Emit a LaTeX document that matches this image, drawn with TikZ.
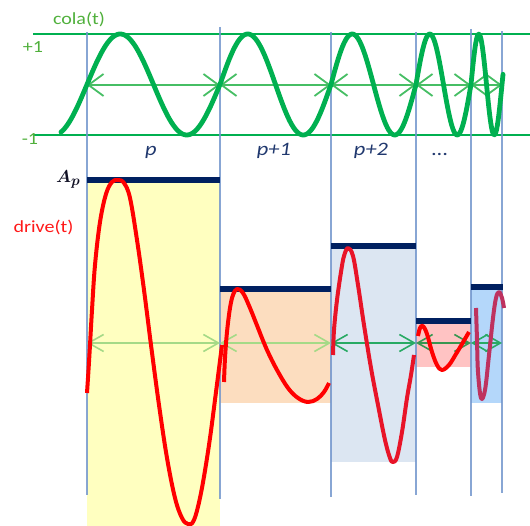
\documentclass[tikz,border=0pt]{standalone}
\usepackage{fontspec}
\newfontfamily\calib[FakeStretch=1.18]{Carlito}
\usetikzlibrary{arrows.meta}
\definecolor{linegreen}{RGB}{0,176,80}
\definecolor{curvegreen}{RGB}{0,176,80}
\definecolor{topgreen}{RGB}{70,190,100}
\definecolor{textgreen}{RGB}{80,176,60}
\definecolor{vblue}{RGB}{115,150,205}
\definecolor{navy}{RGB}{0,32,96}
\definecolor{plabel}{RGB}{32,56,110}
\definecolor{fillA}{RGB}{255,255,192}
\definecolor{fillB}{RGB}{252,221,191}
\definecolor{fillC}{RGB}{220,230,242}
\definecolor{fillD}{RGB}{255,195,195}
\definecolor{fillE}{RGB}{180,215,250}
\definecolor{arrA}{RGB}{165,218,135}
\definecolor{arrB}{RGB}{40,170,100}
\definecolor{arrC}{RGB}{55,150,80}
\definecolor{redA}{RGB}{255,0,0}
\definecolor{redC}{RGB}{232,20,40}
\definecolor{redE}{RGB}{190,50,95}
\definecolor{textred}{RGB}{255,25,25}
\definecolor{amptext}{RGB}{15,15,35}
\tikzset{
  hline/.style={draw=linegreen, line width=1.2pt},
  vline/.style={draw=vblue, line width=1.5pt, opacity=0.85},
  toparrow/.style={draw=topgreen, line width=1.8pt,
    {Straight Barb[length=15pt,width=22pt]}-{Straight Barb[length=15pt,width=22pt]}},
  drivearrow/.style={line width=1.6pt,
    {Straight Barb[length=15pt,width=17pt]}-{Straight Barb[length=15pt,width=17pt]}},
  colacurve/.style={draw=curvegreen, line width=4.8pt, line cap=round, line join=round},
  drivecurve/.style={line width=4pt, line join=round},
  bar/.style={draw=navy, line width=5.5pt},
  greenlabel/.style={text=textgreen, font=\calib\fontsize{17}{20}\selectfont, inner sep=0pt},
  periodlabel/.style={text=plabel, font=\calib\itshape\fontsize{19}{22}\selectfont, inner sep=0pt, anchor=base},
  amplabel/.style={text=amptext, font=\fontsize{19}{23}\selectfont\boldmath, inner sep=0pt, anchor=base west},
}
\begin{document}
\begin{tikzpicture}[x=1pt,y=-1pt]
\useasboundingbox (0,0) rectangle (530,526);
% coordinates
\foreach \n/\x/\ya/\yb in {0/87/32/495, 1/220/27/499, 2/331/32/497, 3/416/32/495, 4/471/29/496, 5/502/31/493} {
  \coordinate (vt\n) at (\x,\ya);
  \coordinate (vb\n) at (\x,\yb);
  \coordinate (m\n) at (\x,85);
  \coordinate (d\n) at (\x,343);
}
\coordinate (hl1) at (33,34);  \coordinate (hr1) at (530,34);
\coordinate (hl2) at (33,135); \coordinate (hr2) at (530,135);
% fills
\fill[fillA] (87,180) rectangle (220,526);
\fill[fillB] (220,289) rectangle (331,403);
\fill[fillC] (331,246) rectangle (416,462);
\fill[fillD] (416,321) rectangle (471,367);
\fill[fillE] (471,287) rectangle (502,403);
% green level lines
\draw[hline] (hl1) -- (hr1);
\draw[hline] (hl2) -- (hr2);
% vertical lines
\foreach \n in {0,...,5} { \draw[vline] (vt\n) -- (vb\n); }
% top arrows
\draw[toparrow] (m0) -- (m1);
\draw[toparrow] (m1) -- (m2);
\draw[toparrow] (m2) -- (m3);
\draw[toparrow] (m3) -- (m4);
\draw[toparrow] (m4) -- (m5);
% cola curve
\draw[colacurve]
  plot[domain=61:220,samples=100] (\x,{84.5-50.5*sin(((\x-87)/133)*360)})
  -- plot[domain=220:331,samples=70] (\x,{84.5-50.5*sin(((\x-220)/111)*360)})
  -- plot[domain=331:416,samples=60] (\x,{84.5-50.5*sin(((\x-331)/85)*360)})
  -- plot[domain=416:471,samples=50] (\x,{84.5-50.5*sin(((\x-416)/55)*360)})
  -- plot[domain=471:503,samples=40] (\x,{84.5-50.5*sin(((\x-471)/31)*360)});
% amplitude bars
\draw[bar] (87,180) -- (220,180);
\draw[bar] (220,289) -- (331,289);
\draw[bar] (331,246) -- (416,246);
\draw[bar] (416,321) -- (471,321);
\draw[bar] (471,287) -- (503,287);
% drive arrows
\draw[drivearrow, draw=arrA] (d0) -- (d1);
\draw[drivearrow, draw=arrA] (d1) -- (d2);
\draw[drivearrow, draw=arrB] (d2) -- (d3);
\draw[drivearrow, draw=arrC] (d3) -- (d4);
\draw[drivearrow, draw=arrB] (d4) -- (d5);
% drive curves
\draw[drivecurve, draw=redA] plot[smooth, tension=0.6] coordinates {
  (87,393) (88.5,370) (90,345) (92,310) (95,265) (100,222) (106,194) (112,182) (118,180)
  (124,183) (130,198) (137,240) (144,290) (151,345) (159,405) (167,458) (175,498) (182,518)
  (188,524) (194,520) (201,493) (209,445) (216,392) (222,345)};
\draw[drivecurve, draw=redA] plot[smooth, tension=0.6] coordinates {
  (224,382) (225,358) (227,332) (230,308) (233,295) (237,289) (243,293) (250,308) (258,328)
  (267,350) (277,370) (288,388) (298,398) (308,402) (317,399) (324,392) (329,383)};
\draw[drivecurve, draw=redC] plot[smooth, tension=0.6] coordinates {
  (333,355) (334,330) (337,300) (341,272) (344,256) (348,248) (353,256) (358,285) (364,325)
  (371,368) (378,405) (385,440) (390,458) (393,462) (397,457) (402,432) (407,398) (411,375) (414,355)};
\draw[drivecurve, draw=redA] plot[smooth, tension=0.6] coordinates {
  (418,336) (420,328) (423,326) (427,334) (432,352) (437,365) (442,370) (449,365) (456,354) (462,344) (469,332)};
\draw[drivecurve, draw=redE] plot[smooth, tension=0.6] coordinates {
  (476,308) (477,340) (478,372) (481,398) (485,390) (489,355) (493,318) (496,298) (499,292) (502,298) (504,308)};
% labels
\node[greenlabel, anchor=base] (cola) at (79,25) {cola(t)};
\node[greenlabel, anchor=base] (plus) at (33,53) {+1};
\node[greenlabel, anchor=base] (minus) at (30,145) {-1};
\node[periodlabel] (lp0) at (151,156) {p};
\node[periodlabel] (lp1) at (274,156) {p+1};
\node[periodlabel] (lp2) at (371,156) {p+2};
\node[periodlabel] (lp3) at (440,156) {...};
\node[amplabel] (amp) at (56,183) {$A_p$};
\node[anchor=base, inner sep=0pt, text=textred, font=\calib\fontsize{17}{20}\selectfont] (drive) at (43.5,233) {drive(t)};
\end{tikzpicture}
\end{document}
